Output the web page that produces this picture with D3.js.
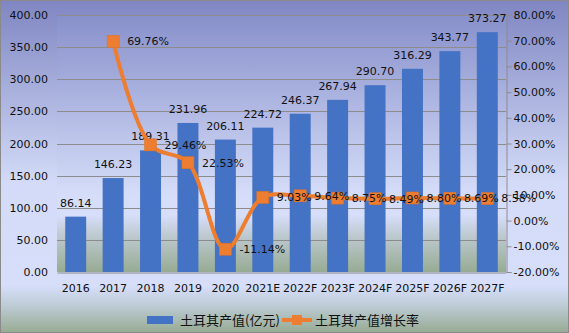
<!DOCTYPE html>
<html><head><meta charset="utf-8">
<script src="https://cdn.jsdelivr.net/npm/d3@7"></script>
<style>body{margin:0;padding:0;background:#fff}svg{display:block}</style>
</head><body>
<script>
const categories = ["2016","2017","2018","2019","2020","2021E","2022F","2023F","2024F","2025F","2026F","2027F"];
const outputValues = [86.14,146.23,189.31,231.96,206.11,224.72,246.37,267.94,290.70,316.29,343.77,373.27];
const growthCategories = ["2017","2018","2019","2020","2021E","2022F","2023F","2024F","2025F","2026F","2027F"];
const growthValues = [69.76,29.46,22.53,-11.14,9.03,9.64,8.75,8.49,8.80,8.69,8.58];
const leftTicks = [0,50,100,150,200,250,300,350,400];
const rightTicks = [-20,-10,0,10,20,30,40,50,60,70,80];
const seriesNames = ["土耳其产值(亿元)","土耳其产值增长率"];

const W=569,H=333;
const L=57,R=506,T=15,B=272;
const font="'DejaVu Sans', Verdana, sans-serif";
const f2=d3.formatLocale({decimal:".",thousands:",",grouping:[3],currency:["",""],minus:"-"}).format(".2f");
const svg=d3.select("body").append("svg").attr("width",W).attr("height",H);
const defs=svg.append("defs");
function grad(id,stops){
  const g=defs.append("linearGradient").attr("id",id).attr("x1",0).attr("y1",0).attr("x2",0).attr("y2",1);
  stops.forEach(s=>g.append("stop").attr("offset",s[0]).attr("stop-color",s[1]));
}
grad("bgChart",[[0,"#7f86c2"],[0.55,"#d3dbf8"],[0.86,"#d6defa"],[0.92,"#bccbd4"],[1,"#97ab93"]]);
grad("bgPlot",[[0,"#8890cb"],[0.7,"#d5ddf9"],[0.78,"#d6defa"],[0.86,"#bdc9cf"],[1,"#97ab93"]]);

svg.append("rect").attr("x",0.5).attr("y",0.5).attr("width",W-1).attr("height",H-1)
  .attr("fill","url(#bgChart)").attr("stroke","#8a8a8a");
svg.append("rect").attr("x",L).attr("y",T).attr("width",R-L).attr("height",B-T).attr("fill","url(#bgPlot)");

const x=d3.scaleBand().domain(categories).range([L,R]).paddingInner(0.44).paddingOuter(0.22);
const yL=d3.scaleLinear().domain([0,400]).range([B,T]);
const yR=d3.scaleLinear().domain([-20,80]).range([B,T]);
const cx=c=>x(c)+x.bandwidth()/2;

// grid
svg.append("g").selectAll("line").data(leftTicks.filter(d=>d>0)).join("line")
  .attr("x1",L).attr("x2",R).attr("y1",d=>Math.round(yL(d))+0.5).attr("y2",d=>Math.round(yL(d))+0.5)
  .attr("stroke","#8c8c8c").attr("stroke-width",1);

// left axis
const gL=svg.append("g").attr("transform",`translate(${L},0)`)
  .call(d3.axisLeft(yL).tickValues(leftTicks).tickFormat(f2).tickSize(0).tickPadding(9));
gL.select(".domain").remove();
gL.selectAll("text").attr("font-family",font).attr("font-size",11).attr("fill","#111");

// right axis
const gR=svg.append("g").attr("transform",`translate(${R+0.5},0)`)
  .call(d3.axisRight(yR).tickValues(rightTicks).tickFormat(d=>f2(d)+"%").tickSize(5).tickPadding(2));
gR.select(".domain").attr("stroke","#8c8c8c");
gR.selectAll(".tick line").attr("stroke","#8c8c8c");
gR.selectAll("text").attr("font-family",font).attr("font-size",11).attr("fill","#111");

// x axis
const gX=svg.append("g").attr("transform",`translate(0,${B+0.5})`)
  .call(d3.axisBottom(x).tickSize(0).tickPadding(12));
gX.select(".domain").attr("stroke","#8c8c8c");
gX.selectAll("text").attr("font-family",font).attr("font-size",11).attr("fill","#111");

// bars
svg.append("g").selectAll("rect").data(categories).join("rect")
  .attr("x",c=>x(c)).attr("width",x.bandwidth())
  .attr("y",(c,i)=>yL(outputValues[i])).attr("height",(c,i)=>B-yL(outputValues[i]))
  .attr("fill","#4472c4");
svg.append("g").selectAll("text").data(categories).join("text")
  .attr("x",c=>cx(c)).attr("y",(c,i)=>yL(outputValues[i])-10)
  .attr("text-anchor","middle").attr("font-family",font).attr("font-size",11).attr("fill","#111")
  .text((c,i)=>f2(outputValues[i]));

// line
const pts=growthCategories.map((c,i)=>[cx(c),yR(growthValues[i])]);
svg.append("path").attr("d",d3.line().curve(d3.curveCatmullRom.alpha(0.5))(pts))
  .attr("fill","none").attr("stroke","#ed7d31").attr("stroke-width",4).attr("stroke-linejoin","round");
svg.append("g").selectAll("rect").data(pts).join("rect")
  .attr("x",d=>d[0]-6).attr("y",d=>d[1]-6).attr("width",12).attr("height",12)
  .attr("fill","#ed7d31").attr("stroke","#e07020").attr("stroke-width",0.5);
svg.append("g").selectAll("text").data(growthCategories).join("text")
  .attr("x",c=>cx(c)+14).attr("y",(c,i)=>yR(growthValues[i])).attr("dy","0.35em")
  .attr("font-family",font).attr("font-size",11).attr("fill","#111")
  .text((c,i)=>f2(growthValues[i])+"%");

// legend
const lg=svg.append("g");
lg.append("rect").attr("x",147).attr("y",316).attr("width",26).attr("height",8).attr("fill","#4472c4");
lg.append("text").attr("x",180).attr("y",320).attr("dy","0.36em").attr("font-family","'Noto Sans CJK SC', sans-serif")
  .attr("font-size",13).attr("fill","#111").text(seriesNames[0]);
lg.append("line").attr("x1",282).attr("x2",312).attr("y1",320).attr("y2",320).attr("stroke","#ed7d31").attr("stroke-width",4);
lg.append("rect").attr("x",292).attr("y",315).attr("width",10).attr("height",10).attr("fill","#ed7d31");
lg.append("text").attr("x",315).attr("y",320).attr("dy","0.36em").attr("font-family","'Noto Sans CJK SC', sans-serif")
  .attr("font-size",13).attr("fill","#111").text(seriesNames[1]);
</script>
</body></html>
